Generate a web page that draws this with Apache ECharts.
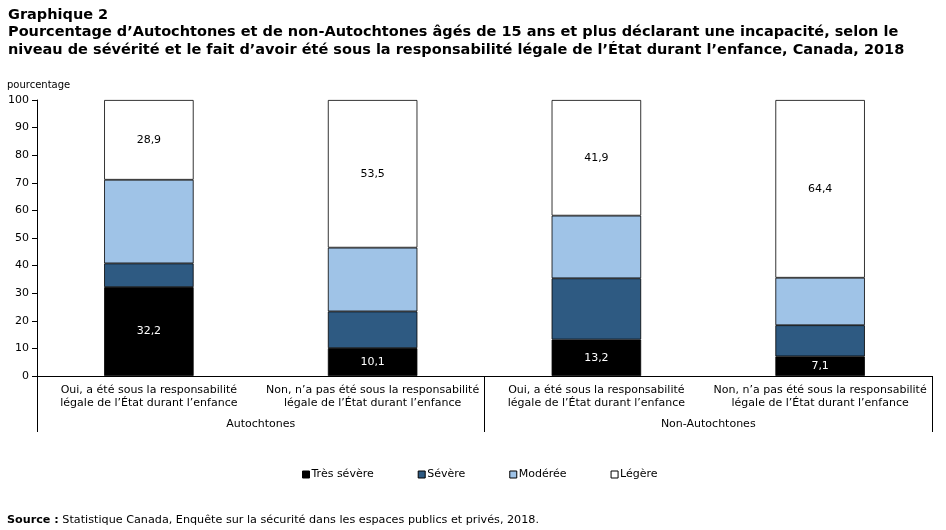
<!DOCTYPE html>
<html>
<head>
<meta charset="utf-8">
<script src="https://cdn.jsdelivr.net/npm/echarts@6/dist/echarts.min.js"></script>
<style>
  html, body { margin: 0; padding: 0; background: #fff; }
  #chart { width: 946px; height: 530px; }
</style>
</head>
<body>
<div id="chart"></div>
<script>
// categories (x axis) and the two groups under them
const categories = [
  'Oui, a été sous la responsabilité\nlégale de l’État durant l’enfance',
  'Non, n’a pas été sous la responsabilité\nlégale de l’État durant l’enfance',
  'Oui, a été sous la responsabilité\nlégale de l’État durant l’enfance',
  'Non, n’a pas été sous la responsabilité\nlégale de l’État durant l’enfance'
];
const groups = ['Autochtones', 'Non-Autochtones'];

// percentages per severity level
const tresSevere = [32.2, 10.1, 13.2, 7.1];
const severe = [8.6, 13.3, 22.2, 11.3];
const moderee = [30.3, 23.1, 22.7, 17.2];
const legere = [28.9, 53.5, 41.9, 64.4];

const yTicks = { min: 0, max: 100, interval: 10 };

const FONT = 'DejaVu Sans';
const fmt = p => String(p.value.toFixed(1)).replace('.', ',');

const chart = echarts.init(document.getElementById('chart'));

function barSeries(name, data, color, label) {
  return {
    name: name,
    type: 'bar',
    stack: 'total',
    data: data,
    barWidth: '40%',
    itemStyle: { color: color, borderColor: '#000', borderWidth: 0.8 },
    label: label ? {
      show: true,
      position: 'inside',
      color: label,
      fontFamily: FONT,
      fontSize: 11,
      formatter: fmt
    } : { show: false },
    emphasis: { disabled: true }
  };
}

const option = {
  animation: false,
  backgroundColor: '#fff',
  title: [
    {
      text: 'Graphique 2\nPourcentage d’Autochtones et de non-Autochtones âgés de 15 ans et plus déclarant une incapacité, selon le\nniveau de sévérité et le fait d’avoir été sous la responsabilité légale de l’État durant l’enfance, Canada, 2018',
      left: 3,
      top: 1,
      textStyle: { fontFamily: FONT, fontSize: 14.5, fontWeight: 'bold', color: '#000', lineHeight: 17.5 }
    },
    {
      text: 'pourcentage',
      left: 2,
      top: 75,
      textStyle: { fontFamily: FONT, fontSize: 10, fontWeight: 'normal', color: '#000' }
    },
    {
      text: '{b|Source :} Statistique Canada, Enquête sur la sécurité dans les espaces publics et privés, 2018.',
      left: 2,
      top: 510,
      textStyle: {
        fontFamily: FONT, fontSize: 11.2, fontWeight: 'normal', color: '#000',
        rich: { b: { fontFamily: FONT, fontSize: 11.2, fontWeight: 'bold', color: '#000' } }
      }
    }
  ],
  legend: {
    bottom: 45,
    left: 297,
    itemWidth: 7,
    itemHeight: 7,
    itemGap: 44,
    icon: 'rect',
    selectedMode: false,
    textStyle: { fontFamily: FONT, fontSize: 11, color: '#000', padding: [0, 0, 0, -3] },
    data: [
      { name: 'Très sévère', itemStyle: { borderColor: '#000', borderWidth: 1 } },
      { name: 'Sévère', itemStyle: { borderColor: '#000', borderWidth: 1 } },
      { name: 'Modérée', itemStyle: { borderColor: '#000', borderWidth: 1 } },
      { name: 'Légère', itemStyle: { borderColor: '#000', borderWidth: 1 } }
    ]
  },
  grid: { left: 37, right: 14, top: 100, bottom: 154, containLabel: false },
  xAxis: [
    {
      type: 'category',
      data: categories,
      axisLine: { lineStyle: { color: '#000', width: 1 } },
      axisTick: { show: false },
      axisLabel: {
        interval: 0,
        color: '#000',
        fontFamily: FONT,
        fontSize: 11,
        lineHeight: 13,
        margin: 8
      }
    },
    {
      type: 'category',
      data: groups,
      position: 'bottom',
      axisLine: { show: false },
      axisTick: { show: true, length: 56, lineStyle: { color: '#000', width: 1 } },
      axisLabel: { color: '#000', fontFamily: FONT, fontSize: 11, margin: 43 }
    }
  ],
  yAxis: {
    type: 'value',
    min: yTicks.min,
    max: yTicks.max,
    interval: yTicks.interval,
    axisLine: { show: true, lineStyle: { color: '#000', width: 1 } },
    axisTick: { show: true, length: 5, lineStyle: { color: '#000' } },
    splitLine: { show: false },
    axisLabel: { color: '#000', fontFamily: FONT, fontSize: 11, margin: 8 }
  },
  series: [
    barSeries('Très sévère', tresSevere, '#000000', '#fff'),
    barSeries('Sévère', severe, '#2e5a82', null),
    barSeries('Modérée', moderee, '#9fc3e7', null),
    barSeries('Légère', legere, '#ffffff', '#000')
  ]
};

chart.setOption(option);
</script>
</body>
</html>
